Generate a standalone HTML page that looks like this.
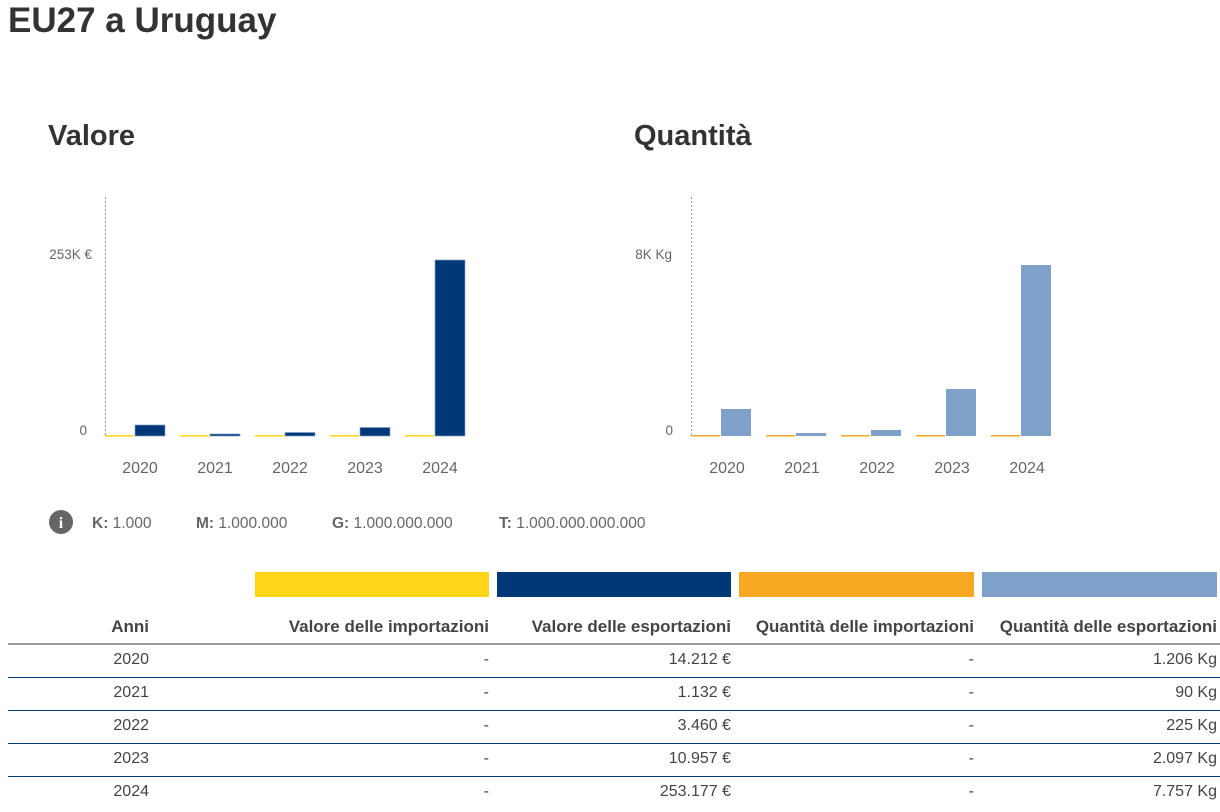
<!DOCTYPE html>
<html><head><meta charset="utf-8"><style>
body{margin:0;width:1220px;height:812px;background:#fff;font-family:"Liberation Sans",Arial,sans-serif;color:#333;position:relative;overflow:hidden}
.a{position:absolute}
h1{position:absolute;margin:0;left:8px;top:1px;font-size:35px;font-weight:bold;color:#333}
h2{position:absolute;margin:0;font-size:29px;font-weight:bold;color:#333}
.t{position:absolute;font-size:16px;color:#444;text-align:right}
.h{font-size:17px;font-weight:bold;top:617px}
</style></head><body>
<h1>EU27 a Uruguay</h1>
<h2 style="left:48px;top:120px">Valore</h2>
<h2 style="left:634px;top:120px">Quantità</h2>
<svg class="a" style="left:0;top:0" width="1220" height="560" font-family="Liberation Sans, Arial, sans-serif">
<g font-size="13.5" fill="#666">
<line x1="105.5" y1="197" x2="105.5" y2="436" stroke="#999" stroke-dasharray="2,2"/>
<text x="92" y="259" text-anchor="end">253K €</text>
<text x="87" y="435" text-anchor="end">0</text>
<g fill="#ffd617"><rect x="105" y="435" width="29" height="1.5"/><rect x="180" y="435" width="29" height="1.5"/><rect x="255" y="435" width="29" height="1.5"/><rect x="330" y="435" width="29" height="1.5"/><rect x="405" y="435" width="29" height="1.5"/></g>
<g fill="#003776" stroke="#7fa0c8" stroke-width="0.7">
<rect x="135" y="425" width="30" height="11"/><rect x="210" y="434" width="30" height="2"/><rect x="285" y="432.5" width="30" height="3.5"/><rect x="360" y="427.5" width="30" height="8.5"/><rect x="435" y="260" width="30" height="176"/></g>
<g font-size="16" text-anchor="middle"><text x="140" y="473">2020</text><text x="215" y="473">2021</text><text x="290" y="473">2022</text><text x="365" y="473">2023</text><text x="440" y="473">2024</text></g>

<line x1="691.5" y1="197" x2="691.5" y2="436" stroke="#999" stroke-dasharray="2,2"/>
<text x="672" y="259" text-anchor="end">8K Kg</text>
<text x="673" y="435" text-anchor="end">0</text>
<g fill="#f7a823"><rect x="691" y="435" width="29" height="1.5"/><rect x="766" y="435" width="29" height="1.5"/><rect x="841" y="435" width="29" height="1.5"/><rect x="916" y="435" width="29" height="1.5"/><rect x="991" y="435" width="29" height="1.5"/></g>
<g fill="#7fa0c8">
<rect x="721" y="409" width="30" height="27"/><rect x="796" y="433" width="30" height="3"/><rect x="871" y="430" width="30" height="6"/><rect x="946" y="389" width="30" height="47"/><rect x="1021" y="265" width="30" height="171"/></g>
<g font-size="16" text-anchor="middle"><text x="727" y="473">2020</text><text x="802" y="473">2021</text><text x="877" y="473">2022</text><text x="952" y="473">2023</text><text x="1027" y="473">2024</text></g>
</g>
<circle cx="61" cy="522" r="12" fill="#666"/>
<text x="61" y="528" font-size="16" font-weight="bold" fill="#fff" text-anchor="middle" font-family="Liberation Serif, serif">i</text>
<g font-size="15.5" fill="#666"><text x="92" y="528"><tspan font-weight="bold">K:</tspan> 1.000</text><text x="196" y="528"><tspan font-weight="bold">M:</tspan> 1.000.000</text><text x="332" y="528"><tspan font-weight="bold">G:</tspan> 1.000.000.000</text><text x="499" y="528"><tspan font-weight="bold">T:</tspan> 1.000.000.000.000</text></g>
</svg>
<div class="a" style="left:255px;top:572px;width:234px;height:25px;background:#ffd617"></div>
<div class="a" style="left:497px;top:572px;width:234px;height:25px;background:#003776"></div>
<div class="a" style="left:739px;top:572px;width:235px;height:25px;background:#f7a823"></div>
<div class="a" style="left:982px;top:572px;width:235px;height:25px;background:#7fa0c8"></div>
<div class="a" style="left:8px;top:643px;width:1212px;height:2px;background:#999"></div>
<div class="a" style="left:8px;top:677px;width:1212px;height:1px;background:#003776"></div>
<div class="a" style="left:8px;top:710px;width:1212px;height:1px;background:#003776"></div>
<div class="a" style="left:8px;top:743px;width:1212px;height:1px;background:#003776"></div>
<div class="a" style="left:8px;top:776px;width:1212px;height:1px;background:#003776"></div>
<div class="t h" style="left:0;width:149px">Anni</div>
<div class="t h" style="left:200px;width:289px">Valore delle importazioni</div>
<div class="t h" style="left:450px;width:281px">Valore delle esportazioni</div>
<div class="t h" style="left:700px;width:274px">Quantità delle importazioni</div>
<div class="t h" style="left:950px;width:267px">Quantità delle esportazioni</div>
<div class="t" style="left:0;width:149px;top:651px">2020</div><div class="t" style="left:200px;width:289px;top:651px">-</div><div class="t" style="left:450px;width:281px;top:651px">14.212 €</div><div class="t" style="left:700px;width:274px;top:651px">-</div><div class="t" style="left:950px;width:267px;top:651px">1.206 Kg</div>
<div class="t" style="left:0;width:149px;top:684px">2021</div><div class="t" style="left:200px;width:289px;top:684px">-</div><div class="t" style="left:450px;width:281px;top:684px">1.132 €</div><div class="t" style="left:700px;width:274px;top:684px">-</div><div class="t" style="left:950px;width:267px;top:684px">90 Kg</div>
<div class="t" style="left:0;width:149px;top:717px">2022</div><div class="t" style="left:200px;width:289px;top:717px">-</div><div class="t" style="left:450px;width:281px;top:717px">3.460 €</div><div class="t" style="left:700px;width:274px;top:717px">-</div><div class="t" style="left:950px;width:267px;top:717px">225 Kg</div>
<div class="t" style="left:0;width:149px;top:750px">2023</div><div class="t" style="left:200px;width:289px;top:750px">-</div><div class="t" style="left:450px;width:281px;top:750px">10.957 €</div><div class="t" style="left:700px;width:274px;top:750px">-</div><div class="t" style="left:950px;width:267px;top:750px">2.097 Kg</div>
<div class="t" style="left:0;width:149px;top:783px">2024</div><div class="t" style="left:200px;width:289px;top:783px">-</div><div class="t" style="left:450px;width:281px;top:783px">253.177 €</div><div class="t" style="left:700px;width:274px;top:783px">-</div><div class="t" style="left:950px;width:267px;top:783px">7.757 Kg</div>
</body></html>
